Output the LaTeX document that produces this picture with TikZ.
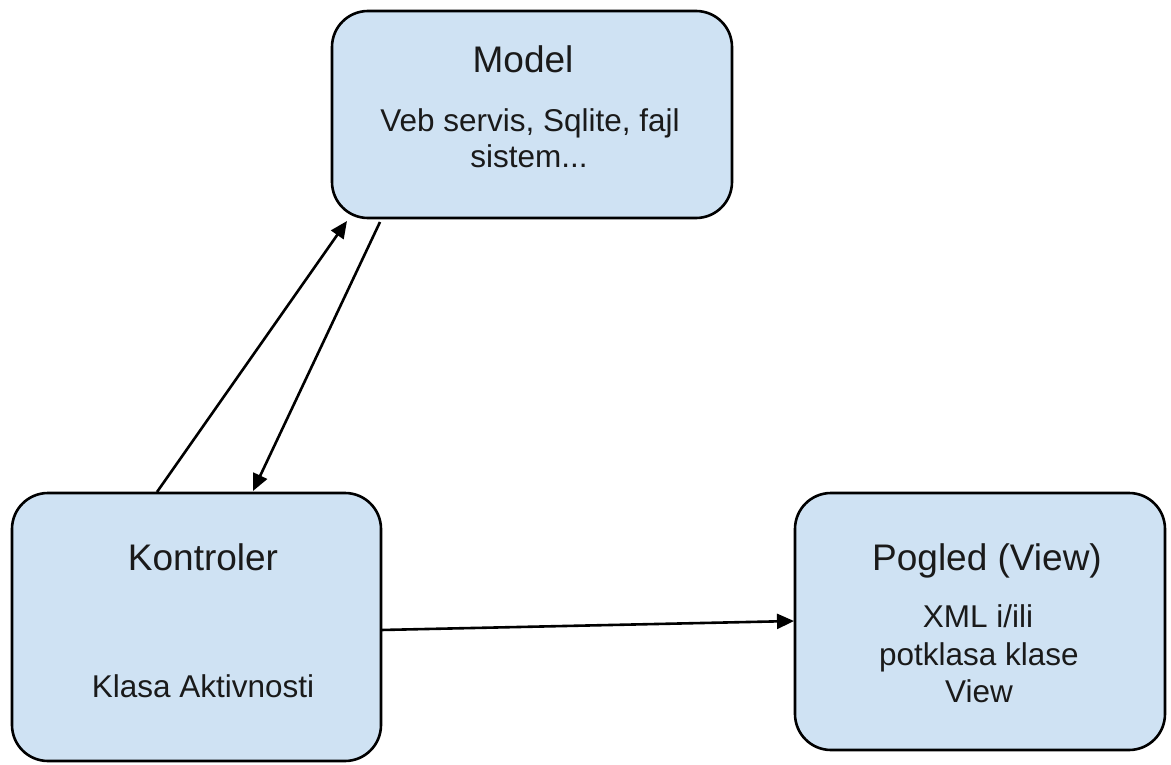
\documentclass[tikz,border=0pt]{standalone}
\usepackage{fontspec}
\setmainfont{Liberation Sans}
\usetikzlibrary{arrows.meta}
\definecolor{boxfill}{HTML}{CFE2F3}
\definecolor{txt}{HTML}{1A1A1A}
\tikzset{
  box/.style={draw=black, line width=2.6pt, fill=boxfill, rounded corners=36pt, inner sep=0pt},
  title/.style={anchor=base, text=txt, inner sep=0pt, font=\fontsize{37}{44}\selectfont},
  body/.style={anchor=base, text=txt, inner sep=0pt, font=\fontsize{31.5}{37}\selectfont},
  conn/.style={line width=2.6pt, -{Triangle[length=17pt,width=15pt]}}
}
\begin{document}
\begin{tikzpicture}[x=1pt,y=-1pt]
\useasboundingbox (0,0) rectangle (1171,765);
% boxes
\node[box, minimum width=400pt, minimum height=207pt] (model) at (532,114.5) {};
\node[box, minimum width=369pt, minimum height=268pt] (kon) at (196.5,627) {};
\node[box, minimum width=370pt, minimum height=257pt] (pog) at (980,621.5) {};
% texts
\node[title] (tmodel) at (523,73) {Model};
\node[body] (bmodel1) at (530,132) {Veb servis, Sqlite, fajl};
\node[body] (bmodel2) at (529,168) {sistem...};
\node[title] (tkon) at (203,570) {Kontroler};
\node[body] (bkon) at (203,697) {Klasa Aktivnosti};
\node[title] (tpog) at (987,570) {Pogled (View)};
\node[body] (bpog1) at (978,627) {XML i/ili};
\node[body] (bpog2) at (979,665) {potklasa klase};
\node[body] (bpog3) at (979,702) {View};
% connector end points
\coordinate (k1) at (157,492);
\coordinate (m1) at (347,221);
\coordinate (m2) at (380,222);
\coordinate (k2) at (253,491);
\coordinate (k3) at (381,630);
\coordinate (p3) at (794,621);
\draw[conn] (k1) -- (m1);
\draw[conn] (m2) -- (k2);
\draw[conn] (k3) -- (p3);
\end{tikzpicture}
\end{document}
